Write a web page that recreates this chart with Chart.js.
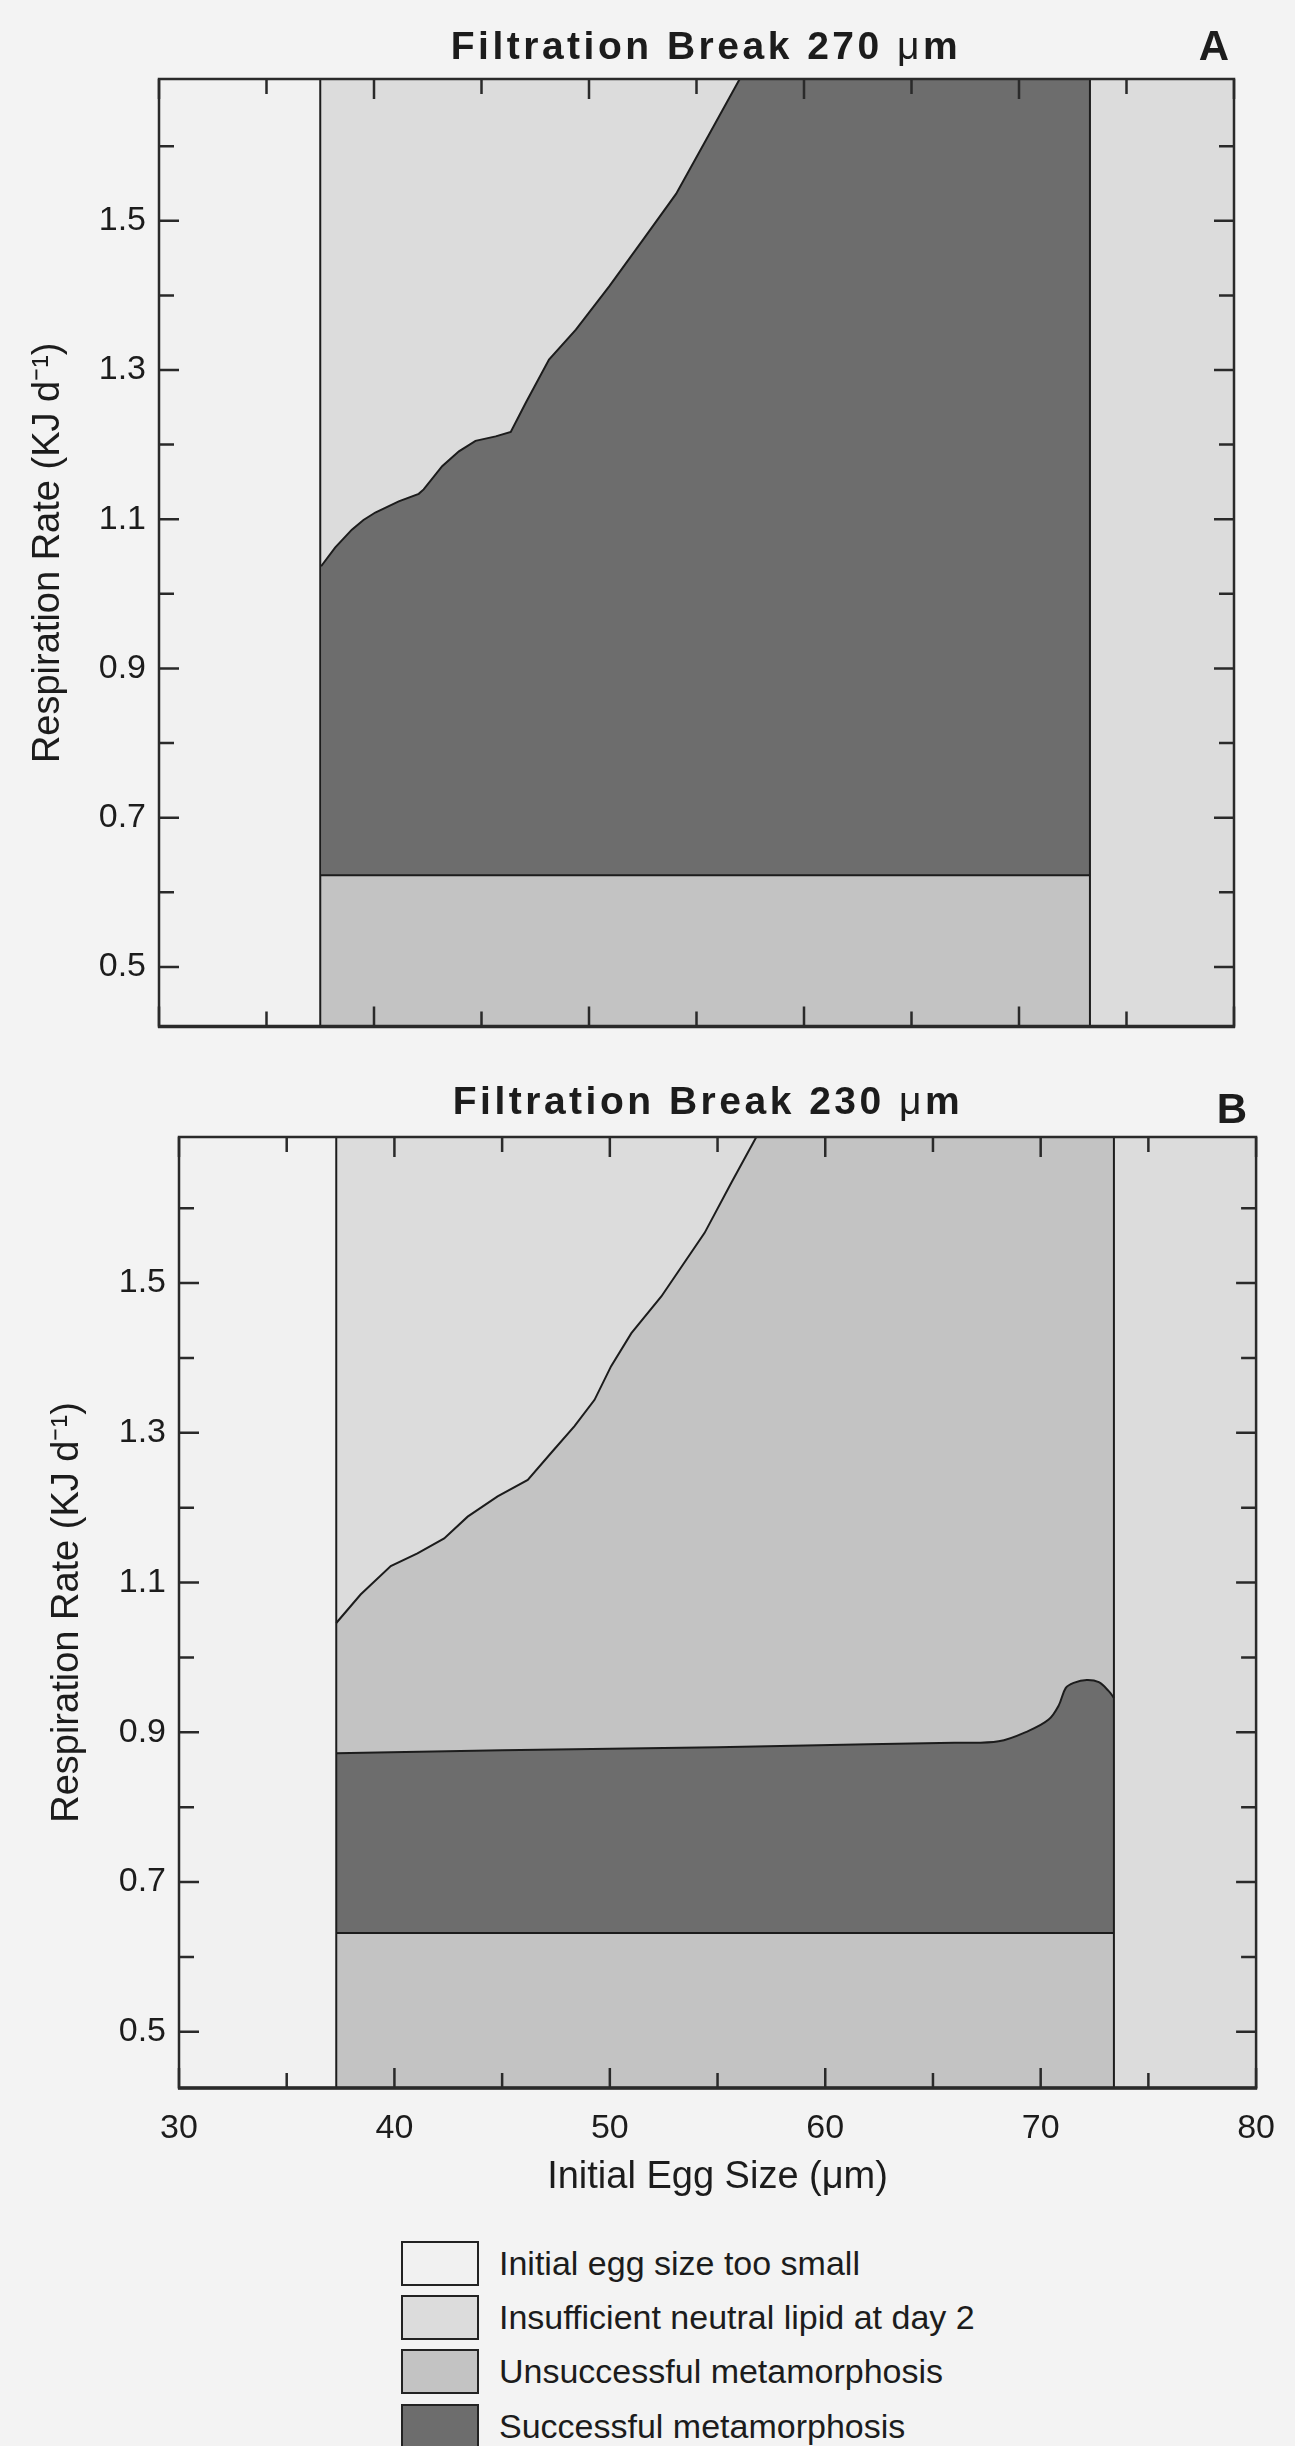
<!DOCTYPE html>
<html>
<head>
<meta charset="utf-8">
<script src="https://cdn.jsdelivr.net/npm/chart.js@4.4.1/dist/chart.umd.min.js"></script>
<style>
html, body { margin: 0; padding: 0; }
body { width: 1295px; height: 2446px; background: #f3f3f3; position: relative; overflow: hidden;
       font-family: 'Liberation Sans', Arial, sans-serif; color: #1c1c1c; }
canvas { position: absolute; left: 0; }
.ptitle { position: absolute; transform: translateX(-50%); white-space: nowrap; font-weight: bold;
          font-size: 39px; letter-spacing: 3.5px; line-height: 1; }
.ptitle .mu { font-weight: normal; }
.plabel { position: absolute; transform: translateX(-50%); font-weight: bold; font-size: 42px; line-height: 1; }
#legend { position: absolute; left: 401px; top: 2241px; }
.lrow { position: relative; height: 54.2px; }
.lbox { position: absolute; left: 0; top: 0; width: 74px; height: 41px; border: 2px solid #222; }
.ltext { position: absolute; left: 98px; top: 0; line-height: 45px; font-size: 34px; white-space: nowrap; }
</style>
</head>
<body>
<canvas id="chartA" width="1295" height="1060" style="top:0px"></canvas>
<canvas id="chartB" width="1295" height="1170" style="top:1060px"></canvas>
<div class="ptitle" style="left:706px;top:26px">Filtration Break 270 <span class="mu">μ</span>m</div>
<div class="plabel" style="left:1214px;top:25px">A</div>
<div class="ptitle" style="left:708px;top:1081px">Filtration Break 230 <span class="mu">μ</span>m</div>
<div class="plabel" style="left:1232px;top:1088px">B</div>
<div id="legend"></div>
<script>
// ---------------- data ----------------
const categories = ['Initial egg size too small', 'Insufficient neutral lipid at day 2',
                    'Unsuccessful metamorphosis', 'Successful metamorphosis'];
const xTickLabels = ['30', '40', '50', '60', '70', '80'];
const yTickLabels = ['0.5', '0.7', '0.9', '1.1', '1.3', '1.5'];
const eggAxisRange = [30, 80];
const respAxisRangeA = [0.42, 1.69];
const respAxisRangeB = [0.425, 1.695];

// Panel A (filtration break 270 um)
const aEggLimits = [37.5, 73.3];
const aUpperEgg  = [37.54, 38.19, 38.97, 39.51, 40.06, 41.15, 42.08, 42.31, 43.17, 43.95, 44.72,
                    45.66, 46.36, 47.06, 48.14, 49.39, 50.94, 52.50, 54.05, 55.61, 57.01];
const aUpperResp = [1.037, 1.062, 1.086, 1.099, 1.109, 1.124, 1.134, 1.140, 1.171, 1.191, 1.205,
                    1.211, 1.217, 1.256, 1.314, 1.354, 1.412, 1.474, 1.536, 1.617, 1.69];
const aLowerResp = [0.623, 0.623];

// Panel B (filtration break 230 um)
const bEggLimits = [37.3, 73.4];
const bUpperEgg  = [37.3, 38.43, 39.83, 41.07, 42.31, 43.40, 44.79, 46.19, 47.27, 48.36, 49.29,
                    50.06, 51.0, 52.39, 54.40, 55.64, 56.80];
const bUpperResp = [1.046, 1.084, 1.122, 1.139, 1.159, 1.188, 1.215, 1.237, 1.273, 1.309, 1.344,
                    1.389, 1.433, 1.482, 1.567, 1.634, 1.695];
const bMidEgg  = [37.3, 45, 55, 62, 66, 68.05, 69.44, 70.37, 70.84, 71.16, 71.53, 72.14, 72.70, 73.16, 73.4];
const bMidResp = [0.872, 0.876, 0.880, 0.884, 0.886, 0.888, 0.902, 0.917, 0.936, 0.959, 0.966, 0.970, 0.967, 0.955, 0.946];
const bLowerResp = [0.632, 0.632];

// ---------------- style ----------------
const categoryColors = ['#f1f1f1', '#dcdcdc', '#c3c3c3', '#6d6d6d'];
const lineColor = '#1c1c1c';
const textColor = '#1c1c1c';
const fontFamily = "'Liberation Sans', Arial, sans-serif";

const pts = (xs, ys) => xs.map((x, i) => ({ x: x, y: ys[i] }));

function region(label, data, color, order, bordered, tension) {
  return {
    label: label, data: data, fill: 'start', backgroundColor: color,
    borderColor: bordered ? lineColor : 'rgba(0,0,0,0)', borderWidth: bordered ? 2 : 0,
    pointRadius: 0, tension: tension || 0, order: order
  };
}
function boundary(x, range) {
  return {
    label: 'boundary', data: [{ x: x, y: range[0] }, { x: x, y: range[1] }], fill: false,
    borderColor: lineColor, borderWidth: 2, pointRadius: 0, order: 0
  };
}

// inward tick marks + frame, positioned through the chart's own scales
const frameTicks = {
  id: 'frameTicks',
  afterDatasetsDraw(chart, args, o) {
    const { ctx, chartArea: a, scales: { x, y } } = chart;
    ctx.save();
    ctx.strokeStyle = o.color;
    ctx.lineWidth = o.tickWidth;
    ctx.beginPath();
    x.ticks.forEach(t => {
      const px = x.getPixelForValue(t.value);
      const len = xTickLabels.includes(String(t.value)) ? o.major : o.minor;
      ctx.moveTo(px, a.bottom); ctx.lineTo(px, a.bottom - len);
      ctx.moveTo(px, a.top); ctx.lineTo(px, a.top + len);
    });
    y.ticks.forEach(t => {
      const py = y.getPixelForValue(t.value);
      const len = yTickLabels.includes(t.value.toFixed(1)) ? o.major : o.minor;
      ctx.moveTo(a.left, py); ctx.lineTo(a.left + len, py);
      ctx.moveTo(a.right, py); ctx.lineTo(a.right - len, py);
    });
    ctx.stroke();
    ctx.lineWidth = o.frameWidth;
    ctx.strokeRect(a.left, a.top, a.right - a.left, a.bottom - a.top);
    ctx.lineWidth = o.bottomWidth;
    ctx.beginPath();
    ctx.moveTo(a.left - 1, a.bottom); ctx.lineTo(a.right + 1, a.bottom);
    ctx.stroke();
    ctx.restore();
  }
};

function makeChart(id, datasets, respRange, lay) {
  return new Chart(document.getElementById(id), {
    type: 'line',
    data: { datasets: datasets },
    plugins: [frameTicks],
    options: {
      responsive: false, animation: false, devicePixelRatio: 1, events: [],
      layout: { padding: { top: lay.top, right: lay.right, bottom: 0, left: 0 } },
      plugins: {
        legend: { display: false }, tooltip: { enabled: false },
        frameTicks: { color: '#2a2a2a', tickWidth: 2.5, frameWidth: 2.5, bottomWidth: 3.5, major: 20, minor: 15 }
      },
      scales: {
        x: {
          type: 'linear', min: eggAxisRange[0], max: eggAxisRange[1],
          grid: { display: false, drawTicks: false }, border: { display: false },
          ticks: {
            display: lay.xLabels, stepSize: 5, padding: 20, autoSkip: false, maxRotation: 0,
            color: textColor, font: { family: fontFamily, size: 34 },
            callback: v => xTickLabels.includes(String(v)) ? String(v) : ''
          },
          title: {
            display: lay.xLabels, text: 'Initial Egg Size (μm)', color: textColor,
            font: { family: fontFamily, size: 38 }, padding: { top: 0, bottom: 30 }
          },
          afterFit: s => { s.height = lay.xHeight; }
        },
        y: {
          type: 'linear', min: respRange[0], max: respRange[1],
          grid: { display: false, drawTicks: false }, border: { display: false },
          ticks: {
            stepSize: 0.1, includeBounds: false, padding: 13, autoSkip: false,
            color: textColor, font: { family: fontFamily, size: 34 },
            callback: v => { const s = v.toFixed(1); return yTickLabels.includes(s) ? s : ''; }
          },
          title: {
            display: true, text: 'Respiration Rate (KJ d⁻¹)', color: textColor,
            font: { family: fontFamily, size: 38 }, padding: { top: lay.yTitlePad, bottom: 0 }
          },
          afterFit: s => { s.width = lay.yWidth; }
        }
      }
    }
  });
}

// Panel A
const topA = respAxisRangeA[1];
makeChart('chartA', [
  boundary(aEggLimits[0], respAxisRangeA),
  boundary(aEggLimits[1], respAxisRangeA),
  region(categories[2], pts(aEggLimits, aLowerResp), categoryColors[2], 1, true),
  region(categories[3], pts(aUpperEgg, aUpperResp).concat([{ x: aEggLimits[1], y: topA }]), categoryColors[3], 2, true),
  region(categories[0], [{ x: eggAxisRange[0], y: topA }, { x: aEggLimits[0], y: topA }], categoryColors[0], 3, false),
  region(categories[1], [{ x: aEggLimits[0], y: topA }, { x: eggAxisRange[1], y: topA }], categoryColors[1], 4, false)
], respAxisRangeA, { top: 79, right: 61, yWidth: 159, xHeight: 31, xLabels: false, yTitlePad: 26 });

// Panel B
const topB = respAxisRangeB[1];
makeChart('chartB', [
  boundary(bEggLimits[0], respAxisRangeB),
  boundary(bEggLimits[1], respAxisRangeB),
  region(categories[2], pts(bEggLimits, bLowerResp), categoryColors[2], 1, true),
  region(categories[3], pts(bMidEgg, bMidResp), categoryColors[3], 2, true, 0.35),
  region(categories[2], pts(bUpperEgg, bUpperResp).concat([{ x: bEggLimits[1], y: topB }]), categoryColors[2], 3, true),
  region(categories[0], [{ x: eggAxisRange[0], y: topB }, { x: bEggLimits[0], y: topB }], categoryColors[0], 4, false),
  region(categories[1], [{ x: bEggLimits[0], y: topB }, { x: eggAxisRange[1], y: topB }], categoryColors[1], 5, false)
], respAxisRangeB, { top: 77, right: 38, yWidth: 179, xHeight: 142, xLabels: true, yTitlePad: 45 });

// Legend
const legendEl = document.getElementById('legend');
categories.forEach((c, i) => {
  const row = document.createElement('div');
  row.className = 'lrow';
  const box = document.createElement('div');
  box.className = 'lbox';
  box.style.background = categoryColors[i];
  const txt = document.createElement('div');
  txt.className = 'ltext';
  txt.textContent = c;
  row.appendChild(box); row.appendChild(txt);
  legendEl.appendChild(row);
});
</script>
</body>
</html>
